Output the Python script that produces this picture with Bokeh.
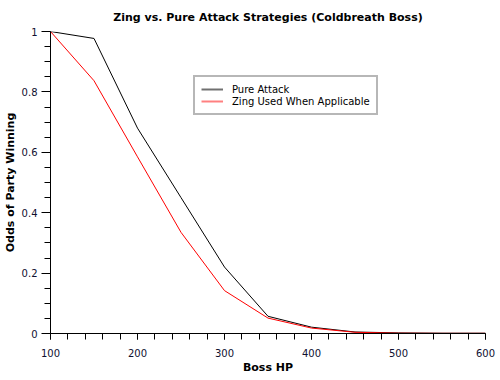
from bokeh.plotting import figure
from bokeh.models import Range1d, FixedTicker, NumeralTickFormatter, Legend, LegendItem
from bokeh.embed import file_html
from bokeh.resources import INLINE

boss_hp = [100, 150, 200, 250, 300, 350, 400, 450, 500, 550, 600]
pure_attack = [1.0, 0.977, 0.68, 0.45, 0.22, 0.057, 0.021, 0.005, 0.002, 0.001, 0.001]
zing_used = [1.0, 0.837, 0.585, 0.335, 0.142, 0.051, 0.018, 0.004, 0.001, 0.0005, 0.0005]

x_ticks = [100, 200, 300, 400, 500, 600]
y_ticks = [0, 0.2, 0.4, 0.6, 0.8, 1.0]

FONT = "DejaVu Sans"

p = figure(width=500, height=380, output_backend="svg", toolbar_location=None,
           x_range=Range1d(100, 600), y_range=Range1d(0, 1),
           min_border_left=50, min_border_right=15, min_border_top=31, min_border_bottom=47,
           title="Zing vs. Pure Attack Strategies (Coldbreath Boss)")
p.outline_line_color = None
p.grid.visible = False
p.background_fill_color = "white"
p.border_fill_color = "white"

p.title.text_font = FONT
p.title.text_font_size = "11px"
p.title.text_font_style = "bold"
p.title.text_color = "black"
p.title.align = "center"
p.title.standoff = 15
p.title.offset = 0

r1 = p.line(boss_hp, pure_attack, line_color="black", line_width=1)
r2 = p.line(boss_hp, zing_used, line_color="#ff0000", line_width=1)
l1 = p.line([-200, -100], [-5, -5], line_color="#707070", line_width=2)
l2 = p.line([-200, -100], [-5, -5], line_color="#ff8080", line_width=2)

for ax in (p.xaxis[0], p.yaxis[0]):
    ax.axis_label_text_font = FONT
    ax.axis_label_text_font_size = "11px"
    ax.axis_label_text_font_style = "bold"
    ax.axis_label_text_color = "black"
    ax.major_label_text_font = FONT
    ax.major_label_text_font_size = "10px"
    ax.major_label_text_color = "#101030"
    ax.axis_line_color = "black"
    ax.major_tick_line_color = "black"
    ax.minor_tick_line_color = "black"
    ax.major_tick_in = 0
    ax.minor_tick_in = 0

xa = p.xaxis[0]
xa.axis_label = "Boss HP"
xa.ticker = FixedTicker(ticks=x_ticks, minor_ticks=list(range(100, 601, 20)))
xa.major_tick_out = 6
xa.minor_tick_out = 6
xa.major_label_standoff = 9
xa.axis_label_standoff = 1

ya = p.yaxis[0]
ya.axis_label = "Odds of Party Winning"
ya.ticker = FixedTicker(ticks=y_ticks, minor_ticks=[i * 0.05 for i in range(21)])
ya.formatter = NumeralTickFormatter(format="0.[0]")
ya.major_tick_out = 9
ya.minor_tick_out = 6
ya.major_label_standoff = 4
ya.axis_label_standoff = 2

legend = Legend(items=[LegendItem(label="Pure Attack", renderers=[l1]),
                       LegendItem(label="Zing Used When Applicable", renderers=[l2])],
                location=(143, 218), orientation="vertical",
                label_text_font=FONT, label_text_font_size="10px", label_text_color="black",
                glyph_width=22, glyph_height=12, label_height=12,
                label_standoff=9, padding=6, spacing=0, margin=0,
                border_line_color="#707070", border_line_width=2,
                background_fill_color="white", background_fill_alpha=1)
p.add_layout(legend, "center")

open("out.html", "w").write(file_html(p, INLINE))
